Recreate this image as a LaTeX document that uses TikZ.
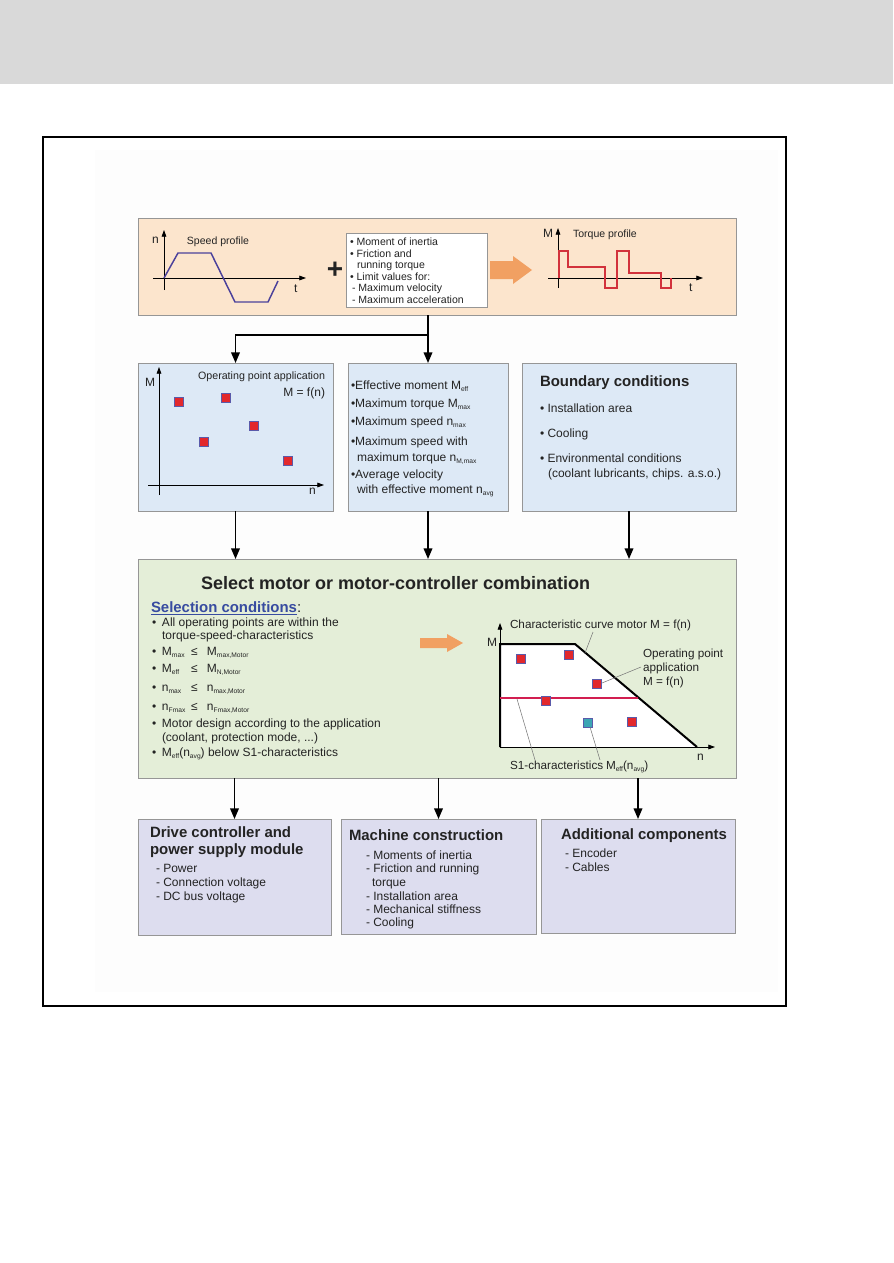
\documentclass[tikz,border=0pt]{standalone}
\usepackage{fontspec}
\setmainfont{Liberation Sans}
\usetikzlibrary{arrows.meta}
\definecolor{peach}{RGB}{252,229,205}
\definecolor{lblue}{RGB}{221,233,246}
\definecolor{lgreen}{RGB}{228,238,216}
\definecolor{lav}{RGB}{221,221,239}
\definecolor{bord}{RGB}{150,150,150}
\definecolor{orng}{RGB}{241,160,98}
\definecolor{sqred}{RGB}{226,40,44}
\definecolor{sqbord}{RGB}{90,90,170}
\definecolor{sqteal}{RGB}{60,165,180}
\definecolor{speedc}{RGB}{75,65,155}
\definecolor{torqc}{RGB}{210,50,60}
\definecolor{s1c}{RGB}{210,30,80}
\definecolor{selblue}{RGB}{55,75,160}
\definecolor{txtc}{RGB}{35,35,35}
\definecolor{band}{RGB}{217,217,217}
\definecolor{faint}{RGB}{253,253,253}
\definecolor{leadc}{RGB}{120,120,120}
\newcommand\lidx[1]{\raisebox{-0.35ex}{\fontsize{5}{5}\selectfont #1}}
\begin{document}
\begin{tikzpicture}[x=0.75pt,y=-0.75pt,
  bx/.style={draw=bord, line width=0.75pt, inner sep=0, outer sep=0, anchor=north west},
  t/.style={inner sep=0, outer sep=0, anchor=base west, text=txtc, font=\fontsize{9}{11}\selectfont},
  ts/.style={t, font=\fontsize{7.9}{9}\selectfont},
  tb/.style={t, font=\fontsize{11.2}{13}\selectfont\bfseries},
  arr/.style={line width=1.1pt, -{Triangle[length=8pt,width=6.5pt]}},
  ax/.style={line width=0.6pt, -{Triangle[length=5pt,width=3.5pt]}},
  sq/.style={draw=sqbord, fill=sqred, line width=0.8pt, minimum size=6.8pt, inner sep=0},
  lead/.style={draw=leadc, line width=0.4pt}
]
\useasboundingbox (0,0) rectangle (893,1263);
\fill[band] (0,0) rectangle (893,84);
\fill[faint] (95,150) rectangle (778,992);
\draw[line width=1.7pt] (43,137) rectangle (786,1006);

% ---------- boxes
\node[bx, fill=peach, minimum width=598*0.75pt, minimum height=97*0.75pt] (top) at (138,218) {};
\node[bx, fill=white, minimum width=141*0.75pt, minimum height=74*0.75pt] (wb) at (346,233) {};
\node[bx, fill=lblue, minimum width=195*0.75pt, minimum height=148*0.75pt] (lb) at (138,363) {};
\node[bx, fill=lblue, minimum width=160*0.75pt, minimum height=148*0.75pt] (mb) at (348,363) {};
\node[bx, fill=lblue, minimum width=214*0.75pt, minimum height=148*0.75pt] (rb) at (522,363) {};
\node[bx, fill=lgreen, minimum width=598*0.75pt, minimum height=219*0.75pt] (green) at (138,559) {};
\node[bx, fill=lav, minimum width=193*0.75pt, minimum height=116*0.75pt] (b1) at (138,819) {};
\node[bx, fill=lav, minimum width=195*0.75pt, minimum height=115*0.75pt] (b2) at (341,819) {};
\node[bx, fill=lav, minimum width=194*0.75pt, minimum height=114*0.75pt] (b3) at (541,819) {};

% ---------- connectors
\coordinate (j) at (428,335);
\draw[line width=1.1pt] (top.south -| j) -- (j);
\draw[arr] (j) -- (mb.north);
\draw[arr] (j) -| (lb.north);
\draw[arr] (lb.south) -- (lb.south |- green.north);
\draw[arr] (mb.south) -- (mb.south |- green.north);
\draw[arr] (rb.south) -- (rb.south |- green.north);
\draw[arr] (green.south -| b1.north) -- (b1.north);
\draw[arr] (green.south -| b2.north) -- (b2.north);
\draw[arr] (green.south -| b3.north) -- (b3.north);

% ---------- top box: speed profile
\draw[ax] (164,290) -- (164,230);
\draw[ax] (153,278) -- (306,278);
\draw[speedc, line width=1.1pt] (164,278) -- (178,253) -- (211,253) -- (235,302) -- (268,302) -- (278,281);
\node[t] (sn) at (152,243) {n};
\node[ts, anchor=base] (sp) at (218,244) {Speed profile};
\node[t] (st) at (294,292) {t};
\node[inner sep=0, font=\fontsize{21}{21}\selectfont\bfseries, text=txtc] (plus) at (335,270) {+};
\node[ts] (w1) at (350,245.5) {• Moment of inertia};
\node[ts] (w2) at (350,257) {• Friction and};
\node[ts] (w3) at (357,268.5) {running torque};
\node[ts] (w4) at (350,280) {• Limit values for:};
\node[ts] (w5) at (352,291.5) {- Maximum velocity};
\node[ts] (w6) at (352,303) {- Maximum acceleration};
\fill[orng] (490,261) -- (513,261) -- (513,256) -- (532,270) -- (513,284) -- (513,279) -- (490,279) -- cycle;
% torque profile
\draw[ax] (558,288) -- (558,228);
\draw[ax] (548,278) -- (703,278);
\draw[torqc, line width=0.9pt] (559,278) -- (559,251) -- (568,251) -- (568,267) -- (605,267) -- (605,288) -- (617,288) -- (617,251) -- (629,251) -- (629,273) -- (661,273) -- (661,288) -- (671,288) -- (671,278);
\node[t] (tm) at (543,237) {M};
\node[ts] (tp) at (573,237) {Torque profile};
\node[t] (tt) at (689,291) {t};

% ---------- left middle box
\draw[ax] (159,495) -- (159,367);
\draw[ax] (148,485) -- (324,485);
\node[t] (lm) at (145,386) {M};
\node[t] (ln) at (309,494) {n};
\node[t, anchor=base east, font=\fontsize{8}{9}\selectfont] (la) at (325,379) {Operating point application};
\node[t, anchor=base east] (lf) at (325,396) {M = f(n)};
\foreach \p/\q [count=\i] in {179/402,226/398,204/442,254/426,288/461}
  \node[sq] (op\i) at (\p,\q) {};

% ---------- middle box
\node[t] (m1) at (351,389) {•Effective moment M\lidx{eff}};
\node[t] (m2) at (351,407) {•Maximum torque M\lidx{max}};
\node[t] (m3) at (351,425) {•Maximum speed n\lidx{max}};
\node[t] (m4) at (351,445) {•Maximum speed with};
\node[t] (m5) at (357,461) {maximum torque n\lidx{M,max}};
\node[t] (m6) at (351,478) {•Average velocity};
\node[t] (m7) at (357,493) {with effective moment n\lidx{avg}};

% ---------- right box
\node[tb] (r0) at (540,386) {Boundary conditions};
\node[t] (r1) at (540,412) {• Installation area};
\node[t] (r2) at (540,437) {• Cooling};
\node[t] (r3) at (540,462) {• Environmental conditions};
\node[t] (r4) at (548,477) {(coolant lubricants, chips. a.s.o.)};

% ---------- green box
\node[t, font=\fontsize{13.5}{15}\selectfont\bfseries] (g0) at (201,589) {Select motor or motor-controller combination};
\node[t, font=\fontsize{11.2}{13}\selectfont] (g1) at (151,612) {\textcolor{selblue}{\bfseries\underline{Selection conditions}}:};
\node[t] (s1) at (152,626) {\makebox[7.5pt][l]{•}All operating points are within the};
\node[t] (s2) at (162,639) {torque-speed-characteristics};
\node[t] (s3) at (152,655) {\makebox[7.5pt][l]{•}\makebox[21.75pt][l]{M\lidx{max}}\makebox[12pt][l]{≤}M\lidx{max,Motor}};
\node[t] (s4) at (152,672) {\makebox[7.5pt][l]{•}\makebox[21.75pt][l]{M\lidx{eff}}\makebox[12pt][l]{≤}M\lidx{N,Motor}};
\node[t] (s5) at (152,691) {\makebox[7.5pt][l]{•}\makebox[21.75pt][l]{n\lidx{max}}\makebox[12pt][l]{≤}n\lidx{max,Motor}};
\node[t] (s6) at (152,710) {\makebox[7.5pt][l]{•}\makebox[21.75pt][l]{n\lidx{Fmax}}\makebox[12pt][l]{≤}n\lidx{Fmax,Motor}};
\node[t] (s7) at (152,727) {\makebox[7.5pt][l]{•}Motor design according to the application};
\node[t] (s8) at (162,741) {(coolant, protection mode, ...)};
\node[t] (s9) at (152,756) {\makebox[7.5pt][l]{•}M\lidx{eff}(n\lidx{avg}) below S1-characteristics};
\fill[orng] (420,638) -- (447,638) -- (447,634) -- (463,643) -- (447,652) -- (447,648) -- (420,648) -- cycle;
% chart
\fill[white] (500,747) -- (500,644) -- (575,644) -- (697,747) -- cycle;
\draw[ax] (500,748) -- (500,623);
\draw[ax] (500,747) -- (715,747);
\draw[line width=1.5pt] (500,747) -- (500,644) -- (575,644) -- (697,747);
\draw[s1c, line width=1pt] (500,698) -- (638,698);
\foreach \p/\q [count=\i] in {521/659,569/655,597/684,546/701,632/722}
  \node[sq] (cp\i) at (\p,\q) {};
\node[sq, fill=sqteal] (cpt) at (588,723) {};
\node[t] (cm) at (487,646) {M};
\node[t] (cn) at (697,760) {n};
\node[t, font=\fontsize{8.8}{10}\selectfont] (c1) at (510,628) {Characteristic curve motor M = f(n)};
\node[t, font=\fontsize{8.8}{10}\selectfont] (c2) at (643,657) {Operating point};
\node[t, font=\fontsize{8.8}{10}\selectfont] (c3) at (643,671) {application};
\node[t, font=\fontsize{8.8}{10}\selectfont] (c4) at (643,685) {M = f(n)};
\node[t, font=\fontsize{8.8}{10}\selectfont] (c5) at (510,769) {S1-characteristics};
\node[t, font=\fontsize{8.8}{10}\selectfont] (c6) at (606,769) {M\lidx{eff}(n\lidx{avg})};
\draw[lead] (593,632) -- (585,653);
\draw[lead] (641,667) -- (602,683);
\draw[lead] (535,760) -- (517,699);
\draw[lead] (600,760) -- (590,727);

% ---------- bottom boxes
\node[tb] (d1) at (150,837) {Drive controller and};
\node[tb] (d2) at (150,854) {power supply module};
\node[t] (d3) at (156,872) {- Power};
\node[t] (d4) at (156,886) {- Connection voltage};
\node[t] (d5) at (156,900) {- DC bus voltage};
\node[tb] (e0) at (349,840) {Machine construction};
\node[t] (e1) at (366,859) {- Moments of inertia};
\node[t] (e2) at (366,872) {- Friction and running};
\node[t] (e3) at (372,886) {torque};
\node[t] (e4) at (366,900) {- Installation area};
\node[t] (e5) at (366,913) {- Mechanical stiffness};
\node[t] (e6) at (366,926) {- Cooling};
\node[tb] (f0) at (561,839) {Additional components};
\node[t] (f1) at (565,857) {- Encoder};
\node[t] (f2) at (565,871) {- Cables};
\end{tikzpicture}
\end{document}
